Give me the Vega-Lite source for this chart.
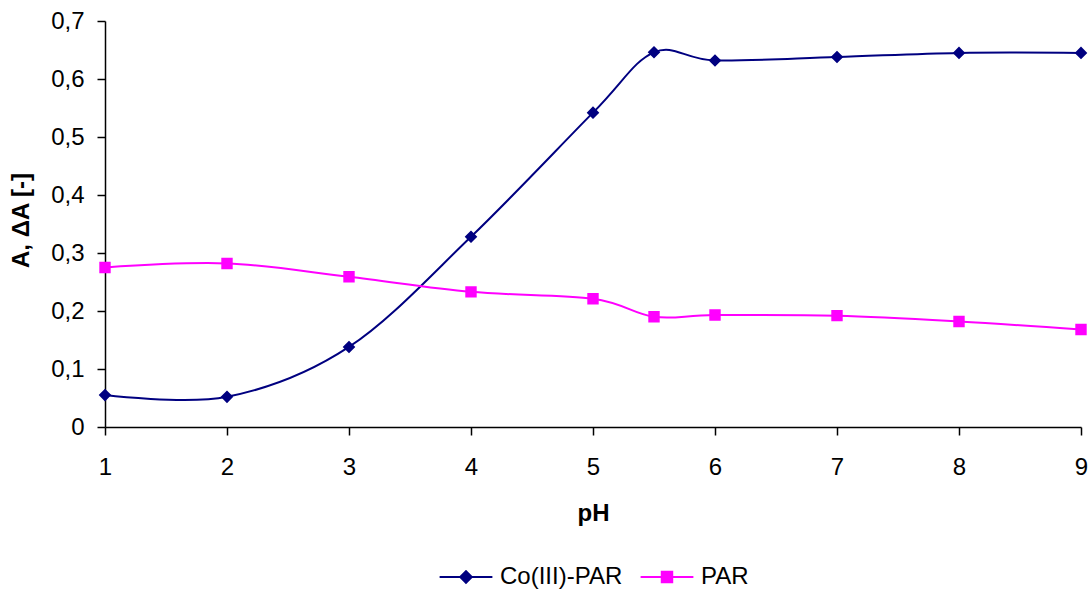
{
  "$schema": "https://vega.github.io/schema/vega-lite/v6.json",
  "width": 976,
  "height": 406,
  "autosize": "none",
  "padding": {"left": 105, "top": 21, "right": 9, "bottom": 164},
  "background": "white",
  "config": {
    "view": {"stroke": null},
    "font": "Liberation Sans",
    "axis": {"grid": false, "domainColor": "black", "tickColor": "black", "domainWidth": 1.5, "tickWidth": 1.5, "tickSize": 8, "labelColor": "black", "titleColor": "black", "labelFont": "Liberation Sans", "titleFont": "Liberation Sans", "labelFontSize": 24, "titleFontSize": 24, "titleFontWeight": "bold"},
    "legend": {"labelFont": "Liberation Sans", "labelFontSize": 24, "labelColor": "black"}
  },
  "data": {
    "values": [
      {"pH": 1, "A": 0.055, "series": "Co(III)-PAR"},
      {"pH": 2, "A": 0.052, "series": "Co(III)-PAR"},
      {"pH": 3, "A": 0.138, "series": "Co(III)-PAR"},
      {"pH": 4, "A": 0.328, "series": "Co(III)-PAR"},
      {"pH": 5, "A": 0.542, "series": "Co(III)-PAR"},
      {"pH": 5.5, "A": 0.646, "series": "Co(III)-PAR"},
      {"pH": 6, "A": 0.632, "series": "Co(III)-PAR"},
      {"pH": 7, "A": 0.638, "series": "Co(III)-PAR"},
      {"pH": 8, "A": 0.645, "series": "Co(III)-PAR"},
      {"pH": 9, "A": 0.645, "series": "Co(III)-PAR"},
      {"pH": 1, "A": 0.275, "series": "PAR"},
      {"pH": 2, "A": 0.282, "series": "PAR"},
      {"pH": 3, "A": 0.259, "series": "PAR"},
      {"pH": 4, "A": 0.233, "series": "PAR"},
      {"pH": 5, "A": 0.221, "series": "PAR"},
      {"pH": 5.5, "A": 0.19, "series": "PAR"},
      {"pH": 6, "A": 0.193, "series": "PAR"},
      {"pH": 7, "A": 0.192, "series": "PAR"},
      {"pH": 8, "A": 0.182, "series": "PAR"},
      {"pH": 9, "A": 0.168, "series": "PAR"}
    ]
  },
  "encoding": {
    "x": {
      "field": "pH", "type": "quantitative",
      "scale": {"domain": [1, 9], "nice": false, "zero": false},
      "axis": {"values": [1, 2, 3, 4, 5, 6, 7, 8, 9], "title": "pH", "labelPadding": 20, "titleY": 93, "titleBaseline": "alphabetic", "labelFlush": false}
    },
    "y": {
      "field": "A", "type": "quantitative",
      "scale": {"domain": [0, 0.7], "nice": false},
      "axis": {"values": [0, 0.1, 0.2, 0.3, 0.4, 0.5, 0.6, 0.7], "title": "A, ΔA [-]", "labelPadding": 13, "labelExpr": "datum.value == 0 ? '0' : replace(format(datum.value, '.1f'), '.', ',')", "titleX": -84, "titleY": 199, "titleAngle": 270, "titleAlign": "center", "titleBaseline": "middle", "labelFlush": false}
    },
    "color": {
      "field": "series", "type": "nominal",
      "scale": {"domain": ["Co(III)-PAR", "PAR"], "range": ["#000080", "#FF00FF"]},
      "legend": {
        "title": null, "orient": "none", "direction": "horizontal",
        "legendX": 349, "legendY": 544,
        "labelOffset": 22, "columnPadding": 13, "symbolSize": 121,
        "encode": {"symbols": {"update": {"stroke": {"scale": "color", "field": "value"}, "fill": {"scale": "color", "field": "value"}, "strokeWidth": {"value": 2}, "opacity": {"value": 1}}}}
      }
    }
  },
  "layer": [
    {
      "mark": {"type": "line", "interpolate": "cardinal", "tension": 0, "strokeWidth": 2},
      "encoding": {}
    },
    {
      "mark": {"type": "point", "filled": true, "size": 144, "opacity": 1},
      "encoding": {
        "shape": {
          "field": "series", "type": "nominal",
          "scale": {"domain": ["Co(III)-PAR", "PAR"], "range": ["M-4.8,0H-1.05M-1.05,0L0,-1.05L1.05,0L0,1.05ZM1.05,0H4.8", "M-4.8,0H-0.95M-0.95,-0.95H0.95V0.95H-0.95ZM0.95,0H4.8"]},
          "legend": {
            "title": null, "orient": "none", "direction": "horizontal",
            "legendX": 349, "legendY": 544,
            "labelOffset": 22, "columnPadding": 13, "symbolSize": 121,
            "encode": {"symbols": {"update": {"stroke": {"scale": "color", "field": "value"}, "fill": {"scale": "color", "field": "value"}, "strokeWidth": {"value": 2}, "opacity": {"value": 1}}}}
          }
        }
      }
    }
  ]
}
